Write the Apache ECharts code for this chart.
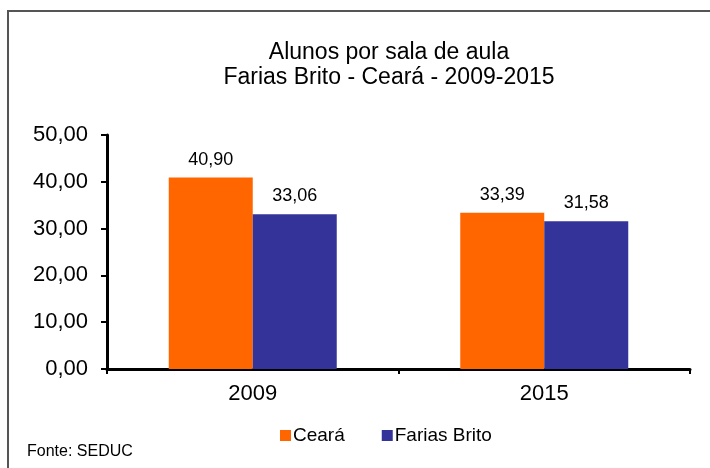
<!DOCTYPE html>
<html lang="pt" style="height: 100%">
<head>
  <meta charset="utf-8">
</head>
<body style="height: 100%; margin: 0; background: #fff">
  <div id="container" style="height: 100%"></div>

  <script type="text/javascript" src="https://fastly.jsdelivr.net/npm/echarts@6/dist/echarts.min.js"></script>

  <script type="text/javascript">
    const anos = ['2009', '2015'];
    const ceara = [40.90, 33.39];
    const fariasBrito = [33.06, 31.58];
    const fmt = v => v.toFixed(2).replace('.', ',');

    var dom = document.getElementById('container');
    var myChart = echarts.init(dom, null, { renderer: 'canvas' });

    var fonte = 'Liberation Sans, Arial, sans-serif';

    var option = {
      animation: false,
      textStyle: { fontFamily: fonte, color: '#000' },
      title: {
        text: 'Alunos por sala de aula\nFarias Brito - Ceará - 2009-2015',
        left: 384,
        textAlign: 'center',
        top: 35,
        textStyle: {
          fontSize: 23,
          fontWeight: 'normal',
          lineHeight: 25,
          color: '#000',
          fontFamily: fonte
        }
      },
      legend: {
        data: ['Ceará', 'Farias Brito'],
        left: 275,
        top: 421,
        itemWidth: 11,
        itemHeight: 11,
        itemGap: 37,
        icon: 'rect',
        textStyle: { fontSize: 19, color: '#000', fontFamily: fonte, padding: [0, 0, 0, -3] }
      },
      grid: {
        left: 107,
        right: 20,
        top: 135,
        height: 234,
        containLabel: false
      },
      xAxis: {
        type: 'category',
        data: anos,
        axisLine: { lineStyle: { color: '#000', width: 3 } },
        axisTick: { show: true, length: 5, lineStyle: { color: '#000', width: 2 } },
        axisLabel: { fontSize: 22, color: '#000', margin: 14 }
      },
      yAxis: {
        type: 'value',
        min: 0,
        max: 50,
        interval: 10,
        axisLine: { show: true, lineStyle: { color: '#000', width: 3 } },
        axisTick: { show: true, length: 6, lineStyle: { color: '#000', width: 2 } },
        splitLine: { show: false },
        axisLabel: { fontSize: 22, color: '#000', margin: 19, formatter: v => fmt(v) }
      },
      series: [
        {
          name: 'Ceará',
          type: 'bar',
          data: ceara,
          barWidth: 84,
          barGap: '0%',
          itemStyle: { color: '#FF6600' },
          label: {
            show: true,
            position: 'top',
            distance: 9,
            fontSize: 18,
            color: '#000',
            formatter: p => fmt(p.value)
          }
        },
        {
          name: 'Farias Brito',
          type: 'bar',
          data: fariasBrito,
          barWidth: 84,
          barGap: '0%',
          itemStyle: { color: '#333399' },
          label: {
            show: true,
            position: 'top',
            distance: 9,
            fontSize: 18,
            color: '#000',
            formatter: p => fmt(p.value)
          }
        }
      ],
      graphic: [
        {
          type: 'rect',
          shape: { x: 8, y: 11, width: 720, height: 480 },
          style: { fill: 'none', stroke: '#555', lineWidth: 2 },
          silent: true
        },
        {
          type: 'text',
          left: 27,
          top: 444,
          style: { text: 'Fonte: SEDUC', fontSize: 16, fill: '#000', fontFamily: fonte }
        }
      ]
    };

    myChart.setOption(option);
    window.addEventListener('resize', myChart.resize);
  </script>
</body>
</html>
